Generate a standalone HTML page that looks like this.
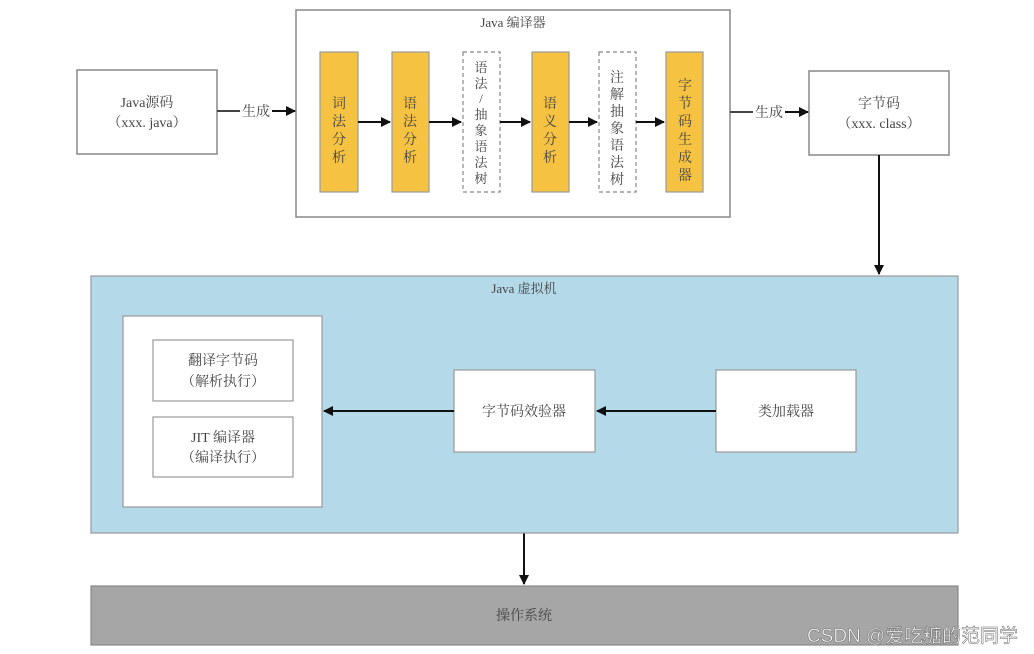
<!DOCTYPE html>
<html><head><meta charset="utf-8"><style>
html,body{margin:0;padding:0;background:#fff;}
svg{display:block;}
text{font-family:"Liberation Serif","Noto Serif CJK SC",serif;fill:#444;}
</style></head><body>
<svg width="1034" height="654" viewBox="0 0 1034 654" xmlns="http://www.w3.org/2000/svg">
<defs><marker id="a" viewBox="0 0 10 10" refX="9" refY="5" markerWidth="5" markerHeight="5" orient="auto"><path d="M0,0L10,5L0,10z" fill="#111"/></marker></defs>
<g stroke="#888" stroke-width="1.5" fill="#fff">
<rect x="77" y="70" width="140" height="84"/>
<rect x="296" y="10" width="434" height="207"/>
<rect x="809" y="71" width="140" height="84"/>
</g>
<text x="147" y="107" font-size="14" text-anchor="middle">Java源码</text>
<text x="147" y="127" font-size="14" text-anchor="middle">（xxx. java）</text>
<text x="513" y="27" font-size="13" text-anchor="middle">Java 编译器</text>
<text x="879" y="108" font-size="14" text-anchor="middle">字节码</text>
<text x="879" y="128" font-size="14" text-anchor="middle">（xxx. class）</text>
<g stroke="#999" stroke-width="1.2" fill="#f5c242">
<rect x="320" y="52" width="38" height="140"/>
<rect x="392" y="52" width="37" height="140"/>
<rect x="532" y="52" width="37" height="140"/>
<rect x="666" y="52" width="37" height="140"/>
</g>
<g stroke="#888" stroke-width="1.2" fill="#fff" stroke-dasharray="4,3">
<rect x="463" y="52" width="37" height="140"/>
<rect x="599" y="52" width="37" height="140"/>
</g>
<g font-size="14" text-anchor="middle">
<text x="339" y="108">词</text><text x="339" y="126">法</text><text x="339" y="144">分</text><text x="339" y="162">析</text>
<text x="410" y="108">语</text><text x="410" y="126">法</text><text x="410" y="144">分</text><text x="410" y="162">析</text>
<text x="550" y="108">语</text><text x="550" y="126">义</text><text x="550" y="144">分</text><text x="550" y="162">析</text>
<text x="617" y="82">注</text><text x="617" y="99">解</text><text x="617" y="116">抽</text><text x="617" y="133">象</text><text x="617" y="150">语</text><text x="617" y="167">法</text><text x="617" y="184">树</text>
<text x="685" y="90">字</text><text x="685" y="108">节</text><text x="685" y="126">码</text><text x="685" y="144">生</text><text x="685" y="162">成</text><text x="685" y="180">器</text>
</g>
<g font-size="13" text-anchor="middle">
<text x="481" y="72">语</text><text x="481" y="88">法</text><text x="481" y="103">/</text><text x="481" y="119">抽</text><text x="481" y="135">象</text><text x="481" y="151">语</text><text x="481" y="167">法</text><text x="481" y="183">树</text>
</g>
<g stroke="#111" stroke-width="2" fill="none" marker-end="url(#a)">
<line x1="358" y1="122" x2="390" y2="122"/>
<line x1="429" y1="122" x2="461" y2="122"/>
<line x1="500" y1="122" x2="530" y2="122"/>
<line x1="569" y1="122" x2="597" y2="122"/>
<line x1="636" y1="122" x2="664" y2="122"/>
<line x1="272" y1="111" x2="295" y2="111"/>
<line x1="785" y1="112" x2="808" y2="112"/>
<line x1="879" y1="155" x2="879" y2="274"/>
<line x1="524" y1="533" x2="524" y2="584"/>
</g>
<g stroke="#444" stroke-width="2"><line x1="217" y1="111" x2="240" y2="111"/><line x1="730" y1="112" x2="753" y2="112"/></g>
<text x="256" y="116" font-size="14" text-anchor="middle">生成</text>
<text x="769" y="117" font-size="14" text-anchor="middle">生成</text>
<rect x="91" y="276" width="867" height="257" fill="#b4d9e9" stroke="#999" stroke-width="1.2"/>
<text x="524" y="293" font-size="13" text-anchor="middle">Java 虚拟机</text>
<g stroke="#999" stroke-width="1.2" fill="#fff">
<rect x="123" y="316" width="199" height="191"/>
<rect x="153" y="340" width="140" height="61"/>
<rect x="153" y="417" width="140" height="60"/>
<rect x="454" y="370" width="141" height="82"/>
<rect x="716" y="370" width="140" height="82"/>
</g>
<g stroke="#111" stroke-width="2" fill="none" marker-end="url(#a)">
<line x1="716" y1="411" x2="597" y2="411"/>
<line x1="454" y1="411" x2="324" y2="411"/>
</g>
<g font-size="14" text-anchor="middle">
<text x="223" y="365">翻译字节码</text><text x="223" y="386">（解析执行）</text>
<text x="223" y="442">JIT 编译器</text><text x="223" y="462">（编译执行）</text>
<text x="524" y="416">字节码效验器</text>
<text x="786" y="416">类加载器</text>
</g>
<rect x="91" y="586" width="867" height="59" fill="#a6a6a6" stroke="#888" stroke-width="1.2"/>
<text x="524" y="620" font-size="14" text-anchor="middle" fill="#333">操作系统</text>
<text x="807" y="642" font-size="19" textLength="211" style="font-family:'Liberation Sans','Noto Sans CJK SC',sans-serif;fill:#fff;stroke:#666;stroke-width:0.5;">CSDN @爱吃糖的范同学</text>
</svg>
</body></html>
